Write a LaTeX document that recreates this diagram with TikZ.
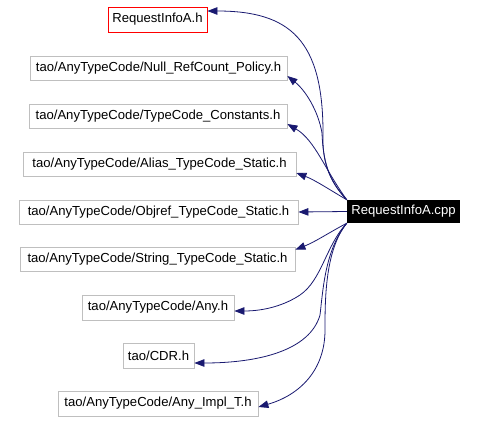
\documentclass[tikz,border=0pt]{standalone}
\usepackage{fontspec}
\setmainfont{Liberation Sans}
\usetikzlibrary{arrows.meta}
\definecolor{edgeblue}{RGB}{25,25,112}
\definecolor{boxgray}{RGB}{191,191,191}
\tikzset{
  filebox/.style={draw=boxgray, line width=0.8pt, inner sep=0pt, minimum height=24pt, font=\fontsize{13.1}{15}\selectfont},
  mainbox/.style={fill=black, text=white, inner sep=0pt, minimum height=23pt, font=\fontsize{13.1}{15}\selectfont},
  dep/.style={draw=edgeblue, line width=0.8pt, -{Triangle[length=10pt,width=7.5pt]}, edgeblue}
}
\begin{document}
\begin{tikzpicture}[x=1pt,y=-1pt]
\useasboundingbox (0,0) rectangle (478,422);
\node[filebox, draw=red, minimum width=99pt, minimum height=25pt] (hA) at (157.5,19.5) {RequestInfoA.h};
\node[filebox, minimum width=257pt] (null) at (158.5,68) {tao/AnyTypeCode/Null\_RefCount\_Policy.h};
\node[filebox, minimum width=258pt] (tc) at (158,116) {tao/AnyTypeCode/TypeCode\_Constants.h};
\node[filebox, minimum width=273pt] (alias) at (159.5,164) {tao/AnyTypeCode/Alias\_TypeCode\_Static.h};
\node[filebox, minimum width=279pt] (objref) at (158.5,212) {tao/AnyTypeCode/Objref\_TypeCode\_Static.h};
\node[filebox, minimum width=275pt] (string) at (157.5,259.5) {tao/AnyTypeCode/String\_TypeCode\_Static.h};
\node[filebox, minimum width=152pt, minimum height=25pt] (any) at (158,307.5) {tao/AnyTypeCode/Any.h};
\node[filebox, minimum width=71pt, minimum height=25pt] (cdr) at (158.5,355.5) {tao/CDR.h};
\node[filebox, minimum width=200pt, minimum height=25pt] (impl) at (158,403.5) {tao/AnyTypeCode/Any\_Impl\_T.h};
\node[mainbox, minimum width=113pt] (cpp) at (403.5,211.5) {RequestInfoA.cpp};

\draw[dep] (cpp.north west) .. controls (328,180) and (322,160) .. (323,133)
  .. controls (323,40) and (290,11) .. ([yshift=8.5pt]hA.east);
\draw[dep] (cpp.north west) .. controls (328,180) and (323,160) .. (322,133)
  .. controls (318,110) and (305,90) .. ([yshift=-8pt]null.east);
\draw[dep] (cpp.north west) .. controls (325,170) and (315,140) .. ([yshift=-8pt]tc.east);
\draw[dep] (cpp.north west) .. controls (330,190) and (315,180) .. ([yshift=-9pt]alias.east);
\draw[dep] (cpp.west) -- (objref.east);
\draw[dep] (cpp.south west) .. controls (330,232) and (315,242) .. ([yshift=-2.5pt]string.north east);
\draw[dep] (cpp.south west) .. controls (326,245) and (322,280) .. (300,295)
  .. controls (285,305) and (265,311) .. ([yshift=-3.5pt]any.east);
\draw[dep] (cpp.south west) .. controls (325,250) and (323,290) .. (320,315)
  .. controls (310,350) and (260,363) .. ([yshift=-7.5pt]cdr.east);
\draw[dep] (cpp.south west) .. controls (325,250) and (325,300) .. (325,330)
  .. controls (325,370) and (300,395) .. ([yshift=-3.5pt]impl.east);
\end{tikzpicture}
\end{document}
